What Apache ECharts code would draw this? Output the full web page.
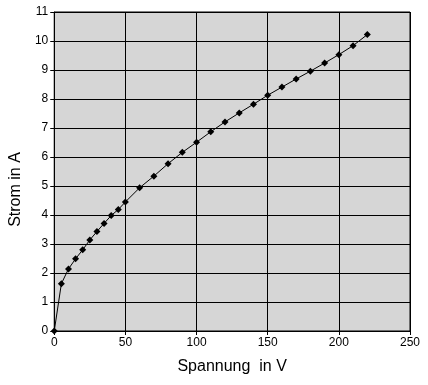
<!DOCTYPE html>
<html><head><meta charset="utf-8">
<script src="https://cdn.jsdelivr.net/npm/echarts@6/dist/echarts.min.js"></script>
<style>html,body{margin:0;padding:0;background:#fff}#c{width:428px;height:385px}</style>
</head><body><div id="c"></div>
<script>
var voltage = [0,5,10,15,20,25,30,35,40,45,50,60,70,80,90,100,110,120,130,140,150,160,170,180,190,200,210,220];
var current = [0,1.63,2.14,2.49,2.80,3.14,3.43,3.71,3.98,4.19,4.45,4.94,5.34,5.77,6.16,6.51,6.87,7.21,7.52,7.82,8.13,8.41,8.69,8.96,9.24,9.53,9.84,10.22];
var xTicks = {min:0,max:250,interval:50};
var yTicks = {min:0,max:11,interval:1};
var xName = 'Spannung  in V';
var yName = 'Strom in A';

var chart = echarts.init(document.getElementById('c'));
var font = 'Liberation Sans, Arial, sans-serif';
chart.setOption({
  animation:false,
  backgroundColor:'#ffffff',
  grid:{left:53,right:18,top:12,bottom:54,show:true,backgroundColor:'#d6d6d6',borderColor:'#000',borderWidth:1},
  xAxis:{type:'value',min:xTicks.min,max:xTicks.max,interval:xTicks.interval,
    name:xName,nameLocation:'middle',nameGap:28,
    nameTextStyle:{fontFamily:font,fontSize:16,color:'#000'},
    axisLine:{show:true,lineStyle:{color:'#000',width:1}},
    axisTick:{show:true,length:4,lineStyle:{color:'#000'}},
    axisLabel:{fontFamily:font,fontSize:12,color:'#000',margin:6},
    splitLine:{show:true,lineStyle:{color:'#000',width:1}}},
  yAxis:{type:'value',min:yTicks.min,max:yTicks.max,interval:yTicks.interval,
    name:yName,nameLocation:'middle',nameGap:28,nameRotate:90,
    nameTextStyle:{fontFamily:font,fontSize:16,color:'#000',padding:[0,36,0,0]},
    axisLine:{show:true,lineStyle:{color:'#000',width:1}},
    axisTick:{show:true,length:4,lineStyle:{color:'#000'}},
    axisLabel:{fontFamily:font,fontSize:12,color:'#000',margin:6},
    splitLine:{show:true,lineStyle:{color:'#000',width:1}}},
  series:[{type:'line',data:voltage.map(function(v,i){return [v,current[i]];}),
    symbol:'diamond',symbolSize:7,itemStyle:{color:'#000'},
    lineStyle:{color:'#000',width:1}}]
});
</script></body></html>
